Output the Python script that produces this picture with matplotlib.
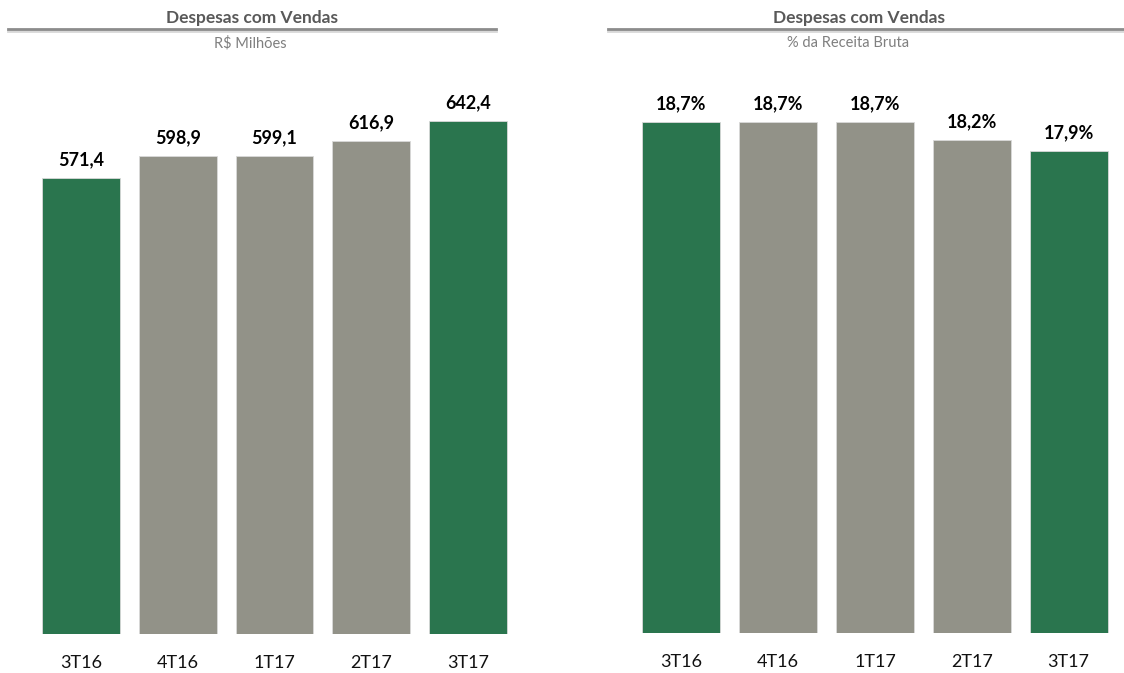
import matplotlib.pyplot as plt
from matplotlib.lines import Line2D

trimestres = ["3T16", "4T16", "1T17", "2T17", "3T17"]
despesas_rs = [571.4, 598.9, 599.1, 616.9, 642.4]
despesas_pct = [18.7, 18.7, 18.7, 18.2, 17.9]
destaque = [True, False, False, False, True]

VERDE = "#2a754e"
CINZA = "#929288"
W, H = 1124, 673

plt.rcParams["font.family"] = ["Lato", "DejaVu Sans"]
fig = plt.figure(figsize=(W / 100, H / 100), dpi=100)


def px_axes(x0, x1, y_top, y_bottom):
    return fig.add_axes([x0 / W, 1 - y_bottom / H, (x1 - x0) / W, (y_bottom - y_top) / H])


def painel(ax, valores, rotulos, ylim):
    cores = [VERDE if d else CINZA for d in destaque]
    x = range(len(valores))
    bars = ax.bar(x, valores, width=0.806, color=cores, edgecolor="#d9d9d9", linewidth=0.6)
    for b, txt in zip(bars, rotulos):
        ax.annotate(txt, (b.get_x() + b.get_width() / 2, b.get_height()),
                    xytext=(0, 7), textcoords="offset points",
                    ha="center", va="bottom", fontsize=13, fontweight="bold", color="black")
    ax.set_xlim(-0.5, len(valores) - 0.5)
    ax.set_ylim(*ylim)
    ax.set_xticks(list(x))
    ax.set_xticklabels(trimestres, fontsize=13, color="#111111")
    ax.tick_params(axis="x", length=0, pad=15)
    ax.set_yticks([])
    for s in ax.spines.values():
        s.set_visible(False)


# painel esquerdo: R$ milhões
ax1 = px_axes(32.6, 516.4, 80, 634)
painel(ax1, despesas_rs, [f"{v:.1f}".replace(".", ",") for v in despesas_rs], (0, 693.7))

# painel direito: % da receita bruta
ax2 = px_axes(633.1, 1116.9, 80, 633)
painel(ax2, despesas_pct, [f"{v:.1f}%".replace(".", ",") for v in despesas_pct], (4.47, 19.87))

# cabeçalhos com linha separadora
for (x0, x1, xc, xs, sub) in [(8, 496, 252, 250, "R$ Milhões"),
                              (608, 1124, 859, 848, "% da Receita Bruta")]:
    y = 1 - 29 / H
    fig.add_artist(Line2D([x0 / W, x1 / W], [y - 1.5 / H, y - 1.5 / H], color="#d8d8d8", lw=2))
    fig.add_artist(Line2D([x0 / W, x1 / W], [y, y], color="#8c8c8c", lw=2))
    fig.text(xc / W, 1 - 18 / H, "Despesas com Vendas", ha="center", va="center",
             fontsize=12.5, fontweight="bold", color="#595959")
    fig.text(xs / W, 1 - 43 / H, sub, ha="center", va="center", fontsize=10.5, color="#7f7f7f")

fig.savefig("out.png", dpi=100, facecolor="white")
